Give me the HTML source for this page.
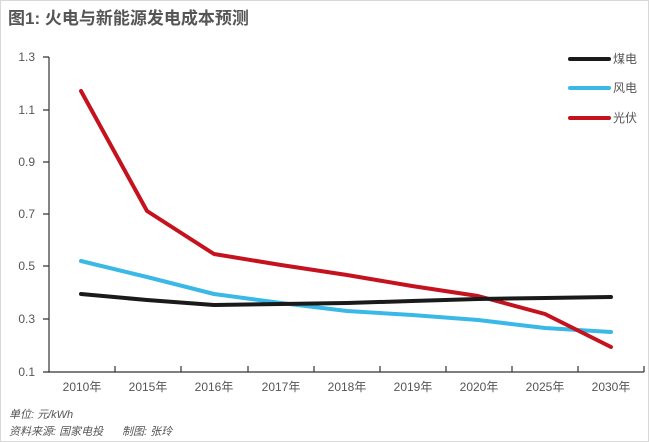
<!DOCTYPE html>
<html><head><meta charset="utf-8"><style>
body{margin:0;background:#fff;}
svg{display:block;font-family:"Liberation Sans","Noto Sans CJK SC",sans-serif;}
</style></head><body>
<svg width="649" height="442" viewBox="0 0 649 442" xmlns="http://www.w3.org/2000/svg">
<rect x="0.5" y="0.5" width="648" height="441" fill="#fff" stroke="#d8d8d8"/>
<text x="8" y="24" font-size="17" font-weight="bold" fill="#555">图1: 火电与新能源发电成本预测</text>
<g font-size="12" fill="#555" text-anchor="end">
<text x="35" y="61">1.3</text><text x="35" y="114">1.1</text><text x="35" y="166">0.9</text>
<text x="35" y="218">0.7</text><text x="35" y="270">0.5</text><text x="35" y="323">0.3</text><text x="35" y="376">0.1</text>
</g>
<g stroke="#333" stroke-width="1.2" fill="none">
<path d="M49 57V372H644"/>
<path d="M43 57H49M43 110H49M43 162H49M43 214H49M43 266H49M43 319H49M43 372H49"/>
<path d="M115 372v-6M181 372v-6M248 372v-6M314 372v-6M380 372v-6M446 372v-6M512 372v-6M578 372v-6M644 372v-6"/>
</g>
<g font-size="12" fill="#555" text-anchor="middle">
<text x="82" y="391">2010年</text><text x="148" y="391">2015年</text><text x="214" y="391">2016年</text>
<text x="281" y="391">2017年</text><text x="347" y="391">2018年</text><text x="413" y="391">2019年</text>
<text x="479" y="391">2020年</text><text x="545" y="391">2025年</text><text x="611" y="391">2030年</text>
</g>
<g fill="none" stroke-width="4" stroke-linejoin="round" stroke-linecap="round">
<polyline stroke="#3ab8e6" points="81,261 147,277 214,294 281,303 347,311 412,315 478,320 545,328 611,332"/>
<polyline stroke="#c4121e" points="81,91 147,211 214,254 281,265 347,275 412,286 478,296 545,314 611,347"/>
<polyline stroke="#1a1a1a" points="81,294 147,300 214,305 281,304 347,303 412,301 478,299 545,298 611,297"/>
<line x1="570" y1="59" x2="609" y2="59" stroke="#1a1a1a"/>
<line x1="570" y1="88" x2="609" y2="88" stroke="#3ab8e6"/>
<line x1="570" y1="118" x2="609" y2="118" stroke="#c4121e"/>
</g>
<g font-size="12" fill="#555">
<text x="613" y="63">煤电</text><text x="613" y="92">风电</text><text x="613" y="122">光伏</text>
</g>
<g font-size="11" fill="#555" font-style="italic">
<text x="9" y="418">单位: 元/kWh</text>
<text x="9" y="435">资料来源: 国家电投</text>
<text x="122" y="435">制图: 张玲</text>
</g>
</svg>
</body></html>
